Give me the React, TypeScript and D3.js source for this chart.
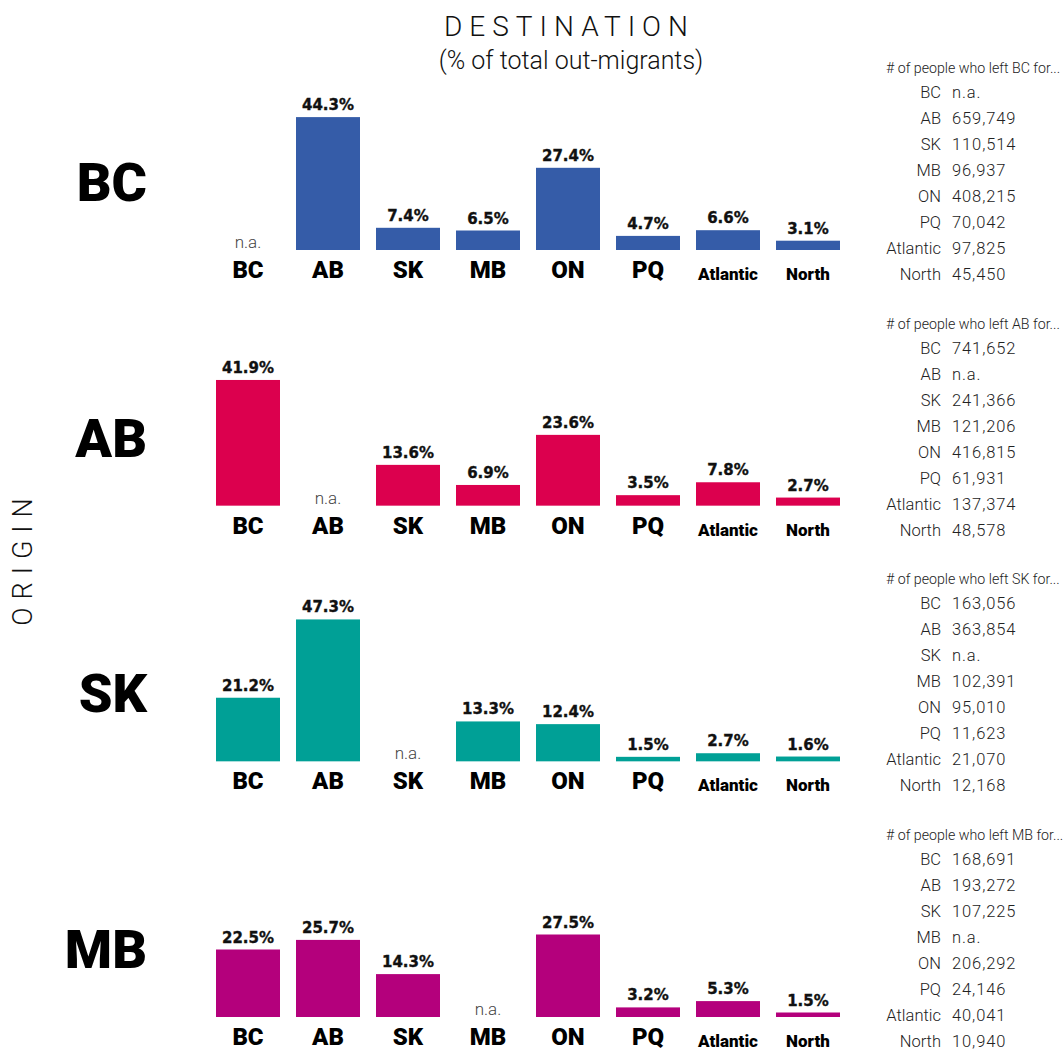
import React from "react";
import * as d3 from "d3";

const origins = ["BC", "AB", "SK", "MB"];
const destinations = ["BC", "AB", "SK", "MB", "ON", "PQ", "Atlantic", "North"];

const pctBC = [null, 44.3, 7.4, 6.5, 27.4, 4.7, 6.6, 3.1];
const pctAB = [41.9, null, 13.6, 6.9, 23.6, 3.5, 7.8, 2.7];
const pctSK = [21.2, 47.3, null, 13.3, 12.4, 1.5, 2.7, 1.6];
const pctMB = [22.5, 25.7, 14.3, null, 27.5, 3.2, 5.3, 1.5];

const countBC = [null, 659749, 110514, 96937, 408215, 70042, 97825, 45450];
const countAB = [741652, null, 241366, 121206, 416815, 61931, 137374, 48578];
const countSK = [163056, 363854, null, 102391, 95010, 11623, 21070, 12168];
const countMB = [168691, 193272, 107225, null, 206292, 24146, 40041, 10940];

const colors = ["#355ca8", "#dc004e", "#00a096", "#b4007c"];

const pcts = [pctBC, pctAB, pctSK, pctMB];
const counts = [countBC, countAB, countSK, countMB];

const W = 1063;
const H = 1050;
const HEAVY = "Roboto, 'Liberation Sans', Arial, sans-serif";
const WIDEBOLD = "'DejaVu Sans', Verdana, sans-serif";
const LIGHT = "Roboto, 'Liberation Sans', Arial, sans-serif";

export default function App() {
  const x = d3
    .scaleBand<string>()
    .domain(destinations)
    .range([208, 848])
    .paddingInner(0.2)
    .paddingOuter(0.1);
  const h = d3.scaleLinear().domain([0, 50]).range([0, 150]);
  const base = d3.scalePoint<string>().domain(origins).range([250, 1017]);
  const fmt = d3.format(",");

  return (
    <svg
      width={W}
      height={H}
      style={{ position: "absolute", left: 0, top: 0, background: "#fff" }}
    >
      <text
        x={566 + 3.5}
        y={36}
        textAnchor="middle"
        fontFamily={LIGHT}
        fontWeight={300}
        fontSize={28}
        letterSpacing={7}
        fill="#111"
      >
        DESTINATION
      </text>
      <text
        x={571}
        y={69}
        textAnchor="middle"
        fontFamily={LIGHT}
        fontWeight={300}
        fontSize={25}
        fill="#111"
      >
        (% of total out-migrants)
      </text>
      <text
        transform={`translate(32,${562 - 4}) rotate(-90)`}
        textAnchor="middle"
        fontFamily={LIGHT}
        fontWeight={300}
        fontSize={27}
        letterSpacing={8}
        fill="#111"
      >
        ORIGIN
      </text>

      {origins.map((o, oi) => {
        const b = base(o)!;
        const vals = pcts[oi];
        const cnt = counts[oi];
        return (
          <g key={o}>
            <text
              x={147}
              y={b - 49}
              textAnchor="end"
              fontFamily={HEAVY}
              fontWeight={900}
              fontSize={54}
              fill="#000"
            >
              {o}
            </text>
            {destinations.map((d, di) => {
              const v = vals[di];
              const bx = x(d)!;
              const cx = bx + x.bandwidth() / 2;
              const small = d.length > 2;
              return (
                <g key={d}>
                  {v == null ? (
                    <text
                      x={cx}
                      y={b - 2}
                      textAnchor="middle"
                      fontFamily={LIGHT}
                      fontWeight={300}
                      fontSize={17}
                      fill="#444"
                    >
                      n.a.
                    </text>
                  ) : (
                    <>
                      <rect
                        x={bx}
                        y={b - h(v)}
                        width={x.bandwidth()}
                        height={h(v)}
                        fill={colors[oi]}
                      />
                      <text
                        x={cx}
                        y={b - h(v) - 7}
                        textAnchor="middle"
                        fontFamily={WIDEBOLD}
                        fontWeight={700}
                        fontSize={15}
                        fill="#111"
                        stroke="#111"
                        strokeWidth={0.35}
                      >
                        {v.toFixed(1)}%
                      </text>
                    </>
                  )}
                  <text
                    x={cx}
                    y={b + (small ? 30 : 28)}
                    textAnchor="middle"
                    fontFamily={HEAVY}
                    fontWeight={900}
                    fontSize={small ? 17 : 24}
                    fill="#000"
                  >
                    {d}
                  </text>
                </g>
              );
            })}
            <text
              x={886}
              y={b - 177}
              fontFamily={LIGHT}
              fontWeight={300}
              fontSize={14.2}
              fill="#222"
            >
              {`# of people who left ${o} for...`}
            </text>
            {destinations.map((d, di) => {
              const c = cnt[di];
              const ty = b - 152 + 26 * di;
              return (
                <g key={"t" + d}>
                  <text
                    x={941}
                    y={ty}
                    textAnchor="end"
                    fontFamily={LIGHT}
                    fontWeight={300}
                    fontSize={16.5}
                    fill="#222"
                  >
                    {d}
                  </text>
                  <text
                    x={952}
                    y={ty}
                    fontFamily={LIGHT}
                    fontWeight={300}
                    fontSize={16.5}
                    letterSpacing={0.9}
                    fill="#222"
                  >
                    {c == null ? "n.a." : fmt(c)}
                  </text>
                </g>
              );
            })}
          </g>
        );
      })}
    </svg>
  );
}
